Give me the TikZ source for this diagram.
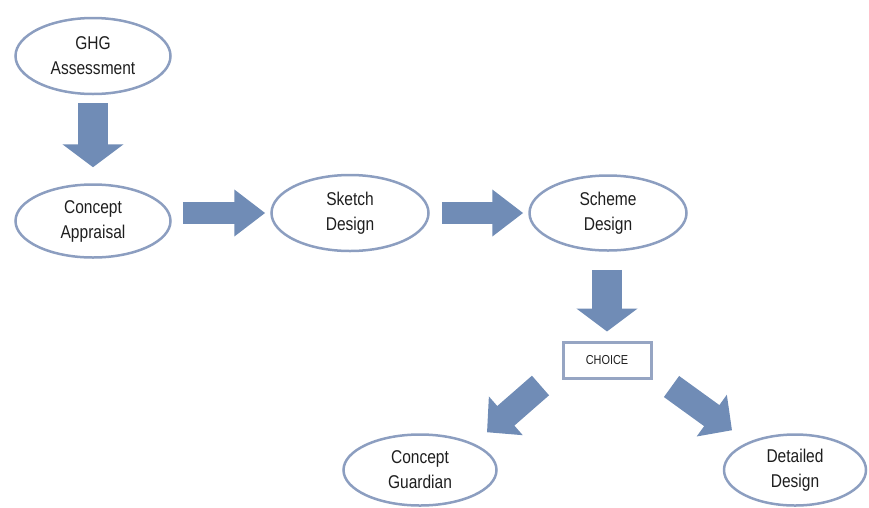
\documentclass[tikz,border=0pt]{standalone}
\usepackage{fontspec}
\setmainfont{Liberation Sans}[FakeStretch=0.84]
\usetikzlibrary{shapes.geometric,arrows.meta,calc}
\definecolor{arrowblue}{RGB}{112,140,182}
\definecolor{edgeblue}{RGB}{140,158,192}
\definecolor{boxedge}{RGB}{150,165,195}
\definecolor{txt}{RGB}{30,30,30}
\begin{document}
\begin{tikzpicture}[x=1pt,y=-1pt,
  stage/.style={ellipse,draw=edgeblue,line width=2.5pt,inner sep=0pt,
    minimum width=155pt,minimum height=75pt,align=center,text=txt,
    font=\fontsize{18.5}{25}\selectfont},
  choicebox/.style={rectangle,draw=boxedge,line width=3pt,inner sep=0pt,
    minimum width=88pt,minimum height=36pt,text=txt,
    font=\fontsize{13}{14}\selectfont},
  varrow/.style={draw=arrowblue,line width=30pt,
    -{Triangle[length=23pt,width=60pt,color=arrowblue]}},
  harrow/.style={draw=arrowblue,line width=22pt,
    -{Triangle[length=31pt,width=45pt,color=arrowblue]}},
  darrow/.style={draw=arrowblue,line width=26pt,
    -{Triangle[length=25pt,width=50pt,color=arrowblue]}}
]
\useasboundingbox (0,0) rectangle (869,507);

\node[stage,minimum height=76pt] (ghg) at (93,56) {GHG\\Assessment};
\node[stage,minimum height=73pt] (ca) at (93,221) {Concept\\Appraisal};
\node[stage,minimum width=157pt,minimum height=76pt] (sk) at (350,213) {Sketch\\Design};
\node[stage,minimum width=157pt,minimum height=75pt] (sc) at (608,213) {Scheme\\Design};
\node[choicebox] (choice) at (607,360) {CHOICE};
\node[stage,minimum width=153pt,minimum height=71pt] (cg) at (420,470) {Concept\\Guardian};
\node[stage,minimum width=142pt,minimum height=71pt] (dd) at (795,470) {Detailed\\Design};

\draw[varrow] ($(ghg.south)+(0,8)$) -- ($(ca.north)+(0,-16)$);
\draw[harrow] ($(ca.east |- sk.west)+(11,0)$) -- ($(sk.west)+(-5,0)$);
\draw[harrow] ($(sk.east)+(12,0)$) -- ($(sc.west)+(-5,0)$);
\draw[varrow] ($(sc.south -| choice.north)+(0,18)$) -- ($(choice.north)+(0,-9)$);
\draw[darrow] ($(choice.south west)+(-21,6)$) -- ($(cg.north)+(67,-1)$);
\draw[darrow] ($(choice.south east)+(19,7)$) -- ($(dd.north)+(-63,-3)$);
\end{tikzpicture}
\end{document}
